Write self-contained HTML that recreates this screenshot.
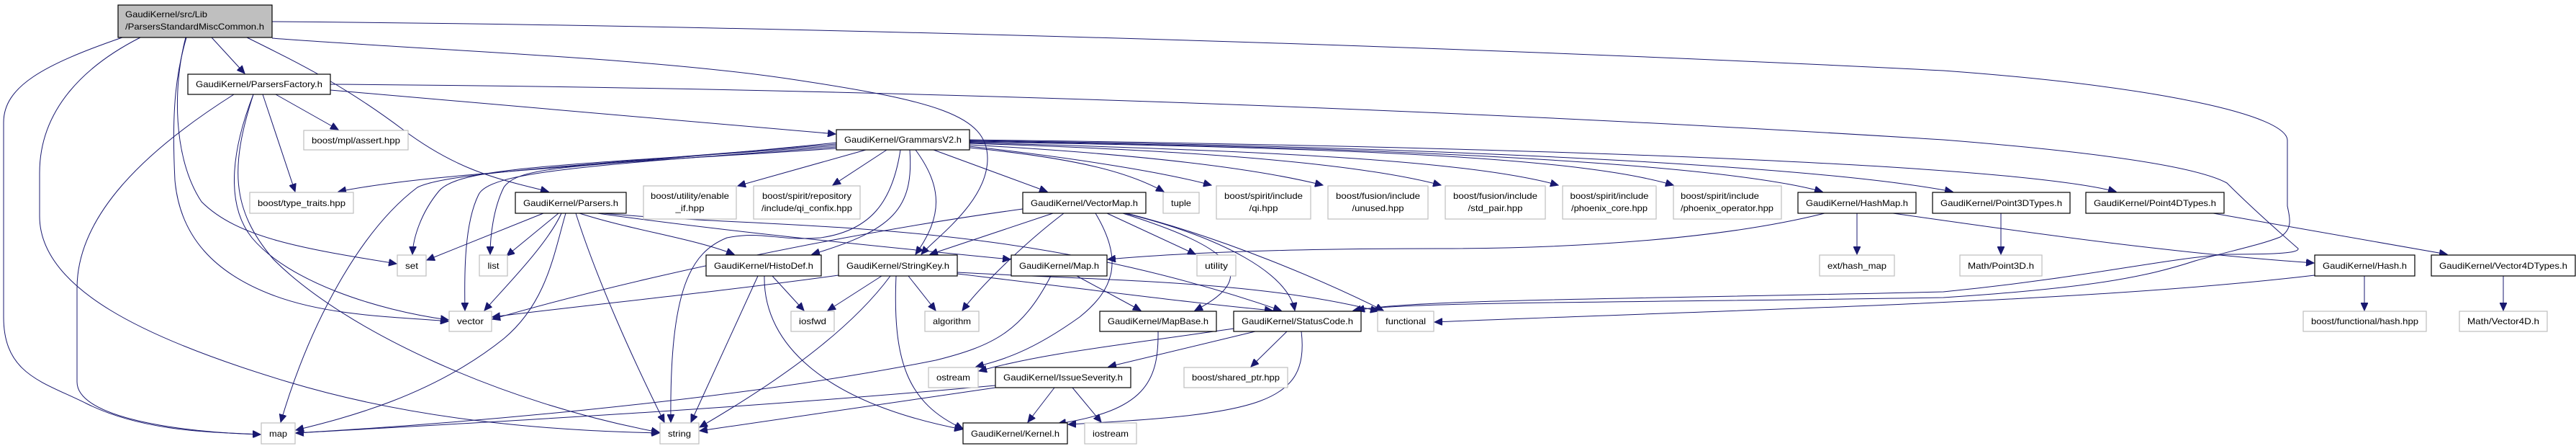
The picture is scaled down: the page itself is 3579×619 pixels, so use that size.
<!DOCTYPE html>
<html><head><meta charset="utf-8"><style>
html,body{margin:0;padding:0;background:#fff;}
svg{display:block;}
text{font-family:"Liberation Sans",sans-serif;font-size:12px;fill:#000;}
.n rect{fill:#fff;stroke:#000;stroke-width:1.2;}
.e rect{fill:#fff;stroke:#bfbfbf;stroke-width:1.2;}
path{fill:none;stroke:#191970;stroke-width:1;}
</style></head><body>
<svg width="3579" height="619" viewBox="0 0 3579 619" xmlns="http://www.w3.org/2000/svg">
<defs><marker id="a" markerUnits="userSpaceOnUse" markerWidth="12" markerHeight="10" refX="11" refY="5" orient="auto"><path d="M0,0 L11,5 L0,10 Z" style="fill:#191970;stroke:#191970"/></marker></defs>
<g marker-end="url(#a)">
<!-- Root edges -->
<path d="M170,52 C60,90 5,120 5,170 L5,440 C5,520 60,530 120,560 C200,600 300,600 362,603"/>
<path d="M195,52 C120,90 55,150 55,240 L55,300 C55,400 200,470 400,530 C600,590 800,598 916,601"/>
<path d="M259,52 C245,100 238,150 243,250 C250,330 300,380 380,410 C460,440 560,440 623,446"/>
<path d="M258,52 C240,120 240,220 280,280 C330,330 420,345 551,366"/>
<path d="M294,52 L340,102"/>
<path d="M343,52 C420,90 480,120 560,180 C640,240 700,250 762,266"/>
<path d="M378,53 C600,70 900,80 1100,110 C1300,140 1372,160 1372,220 C1372,280 1300,330 1280,353"/>
<path d="M378,30 C900,34 1800,53 2700,98 C3000,120 3178,160 3178,195 L3178,286 C3182,305 3185,318 3168,329 C3140,340 3100,348 3050,362 C2980,385 2900,400 2700,413 C2300,420 1950,418 1880,431"/>
<!-- ParsersFactory edges -->
<path d="M459,117 C1200,122 2000,150 2700,194 C2900,210 3050,230 3094,254 C3130,290 3170,325 3193,345 C3195,352 3150,353 3094,353 C3000,360 2900,385 2700,405 C2300,415 1950,415 1885,431"/>
<path d="M459,125 L1161,186"/>
<path d="M383,131 L470,180"/>
<path d="M365,131 L410,266"/>
<path d="M325,131 C200,210 107,300 107,400 L107,530 C107,580 250,600 362,603"/>
<path d="M352,131 C325,200 310,280 350,330 C400,390 520,430 623,444"/>
<path d="M352,131 C320,230 320,290 380,360 C480,460 700,560 916,600"/>
<!-- GrammarsV2 edges -->
<path d="M1162,198 C800,235 600,240 470,266"/>
<path d="M1162,200 C800,230 620,240 580,260 C500,320 430,450 390,586"/>
<path d="M1162,202 C800,230 640,230 610,265 C585,295 574,330 573,353"/>
<path d="M1162,204 C800,230 680,240 665,270 C645,310 645,380 646,431"/>
<path d="M1162,206 C800,230 720,230 700,260 C685,290 681,330 681,353"/>
<path d="M1203,208 L1025,258"/>
<path d="M1232,208 L1157,257"/>
<path d="M1251,208 C1240,280 1210,320 1140,330 C1080,335 1060,320 1010,330 C960,350 930,400 932,586"/>
<path d="M1264,208 C1270,290 1240,320 1128,353"/>
<path d="M1272,208 C1310,260 1310,300 1272,353"/>
<path d="M1297,208 L1455,266"/>
<path d="M1347,205 C1500,220 1570,240 1617,266"/>
<path d="M1347,203 C1500,220 1620,240 1683,257"/>
<path d="M1347,201 C1600,215 1750,235 1838,257"/>
<path d="M1347,199 C1700,210 1900,230 2002,257"/>
<path d="M1347,198 C1800,210 2050,225 2165,257"/>
<path d="M1347,197 C1900,205 2200,220 2325,257"/>
<path d="M1347,196 C2000,205 2400,230 2532,266"/>
<path d="M1347,195 C2100,205 2550,235 2713,266"/>
<path d="M1347,194 C2200,205 2800,230 2940,266"/>
<!-- Parsers.h edges -->
<path d="M755,296 L593,361"/>
<path d="M776,296 L704,355"/>
<path d="M780,296 C760,340 700,400 673,431"/>
<path d="M786,296 C770,350 760,420 700,470 C600,550 480,580 411,597"/>
<path d="M800,296 C830,390 880,500 923,586"/>
<path d="M805,296 C880,320 960,330 1020,353"/>
<path d="M830,296 C1000,320 1200,340 1404,360"/>
<path d="M838,296 C1100,320 1400,300 1780,431"/>
<!-- VectorMap edges -->
<path d="M1421,290 C1200,320 900,380 684,443"/>
<path d="M1463,296 L1292,353"/>
<path d="M1478,296 C1420,340 1360,400 1337,431"/>
<path d="M1522,296 C1560,360 1550,400 1500,440 C1430,490 1390,500 1356,509"/>
<path d="M1538,296 L1661,353"/>
<path d="M1560,296 C1700,340 1760,380 1660,431"/>
<path d="M1563,296 C1700,330 1790,380 1799,431"/>
<path d="M1565,296 C1700,330 1840,390 1922,431"/>
<!-- HashMap edges -->
<path d="M2535,296 C2400,330 2200,345 2000,345 C1800,345 1650,350 1539,360"/>
<path d="M2580,296 L2580,353"/>
<path d="M2630,296 C2800,320 3000,350 3215,365"/>
<path d="M2780,296 L2780,353"/>
<path d="M3075,296 L3400,353"/>
<path d="M3285,383 L3285,431"/>
<path d="M3216,382 C2900,420 2400,430 1993,447"/>
<path d="M3478,383 L3478,431"/>
<!-- StringKey edges -->
<path d="M1165,382 C1000,405 800,425 684,440"/>
<path d="M1225,383 L1150,431"/>
<path d="M1237,383 C1180,460 1080,530 972,593"/>
<path d="M1262,383 L1300,431"/>
<path d="M1245,383 C1240,500 1260,560 1338,595"/>
<path d="M1330,380 C1500,400 1650,420 1768,431"/>
<path d="M1330,378 C1550,390 1750,390 1915,432"/>
<!-- HistoDef edges -->
<path d="M1073,383 L1117,431"/>
<path d="M1053,383 L960,586"/>
<path d="M1062,383 C1060,480 1150,560 1337,596"/>
<!-- Map.h edges -->
<path d="M1496,383 L1585,431"/>
<path d="M1460,383 C1420,460 1380,480 1300,500 C1000,560 600,590 411,601"/>
<!-- MapBase -->
<path d="M1609,460 C1610,530 1590,570 1470,588"/>
<!-- StatusCode edges -->
<path d="M1714,456 C1550,480 1450,490 1360,515"/>
<path d="M1744,460 L1540,509"/>
<path d="M1788,460 L1738,509"/>
<path d="M1808,460 C1820,560 1750,575 1484,589"/>
<!-- IssueSeverity edges -->
<path d="M1383,535 C1000,570 600,590 411,601"/>
<path d="M1383,538 L972,598"/>
<path d="M1465,538 L1428,586"/>
<path d="M1490,538 L1530,586"/>
</g>

<!-- nodes -->
<g class="n"><rect x="164" y="7" width="214" height="45" style="fill:#bfbfbf"/>
<text x="174" y="24" textLength="114" lengthAdjust="spacingAndGlyphs">GaudiKernel/src/Lib</text>
<text x="174" y="41" textLength="193" lengthAdjust="spacingAndGlyphs">/ParsersStandardMiscCommon.h</text></g>

<g class="n"><rect x="261" y="103" width="198" height="28"/><text x="360" y="121" text-anchor="middle" textLength="176" lengthAdjust="spacingAndGlyphs">GaudiKernel/ParsersFactory.h</text></g>
<g class="e"><rect x="422" y="181" width="145" height="27"/><text x="494.5" y="199" text-anchor="middle" textLength="123" lengthAdjust="spacingAndGlyphs">boost/mpl/assert.hpp</text></g>
<g class="e"><rect x="347" y="267" width="144" height="29"/><text x="419" y="286" text-anchor="middle" textLength="122" lengthAdjust="spacingAndGlyphs">boost/type_traits.hpp</text></g>
<g class="n"><rect x="716" y="267" width="154" height="29"/><text x="793" y="286" text-anchor="middle" textLength="132" lengthAdjust="spacingAndGlyphs">GaudiKernel/Parsers.h</text></g>
<g class="e"><rect x="552" y="354" width="40" height="29"/><text x="572" y="373" text-anchor="middle" textLength="18" lengthAdjust="spacingAndGlyphs">set</text></g>
<g class="e"><rect x="666" y="354" width="39" height="29"/><text x="685.5" y="373" text-anchor="middle" textLength="16" lengthAdjust="spacingAndGlyphs">list</text></g>
<g class="e"><rect x="624" y="432" width="59" height="28"/><text x="653.5" y="450" text-anchor="middle" textLength="37" lengthAdjust="spacingAndGlyphs">vector</text></g>
<g class="e"><rect x="363" y="587" width="47" height="29"/><text x="386.5" y="606" text-anchor="middle" textLength="25" lengthAdjust="spacingAndGlyphs">map</text></g>
<g class="n"><rect x="1162" y="180" width="185" height="28"/><text x="1254.5" y="198" text-anchor="middle" textLength="163" lengthAdjust="spacingAndGlyphs">GaudiKernel/GrammarsV2.h</text></g>

<g class="e"><rect x="894" y="258" width="129" height="46"/><text x="958.5" y="276" text-anchor="middle" textLength="109" lengthAdjust="spacingAndGlyphs">boost/utility/enable</text><text x="958.5" y="293" text-anchor="middle" textLength="40" lengthAdjust="spacingAndGlyphs">_if.hpp</text></g>
<g class="e"><rect x="1047" y="258" width="148" height="46"/><text x="1121" y="276" text-anchor="middle" textLength="124" lengthAdjust="spacingAndGlyphs">boost/spirit/repository</text><text x="1121" y="293" text-anchor="middle" textLength="126" lengthAdjust="spacingAndGlyphs">/include/qi_confix.hpp</text></g>
<g class="n"><rect x="1421" y="267" width="171" height="29"/><text x="1506.5" y="286" text-anchor="middle" textLength="149" lengthAdjust="spacingAndGlyphs">GaudiKernel/VectorMap.h</text></g>
<g class="e"><rect x="1616" y="267" width="50" height="29"/><text x="1641" y="286" text-anchor="middle" textLength="28" lengthAdjust="spacingAndGlyphs">tuple</text></g>
<g class="e"><rect x="1690" y="258" width="131" height="46"/><text x="1755.5" y="276" text-anchor="middle" textLength="109" lengthAdjust="spacingAndGlyphs">boost/spirit/include</text><text x="1755.5" y="293" text-anchor="middle" textLength="40" lengthAdjust="spacingAndGlyphs">/qi.hpp</text></g>
<g class="e"><rect x="1845" y="258" width="139" height="46"/><text x="1914.5" y="276" text-anchor="middle" textLength="117" lengthAdjust="spacingAndGlyphs">boost/fusion/include</text><text x="1914.5" y="293" text-anchor="middle" textLength="72" lengthAdjust="spacingAndGlyphs">/unused.hpp</text></g>
<g class="e"><rect x="2008" y="258" width="139" height="46"/><text x="2077.5" y="276" text-anchor="middle" textLength="117" lengthAdjust="spacingAndGlyphs">boost/fusion/include</text><text x="2077.5" y="293" text-anchor="middle" textLength="76" lengthAdjust="spacingAndGlyphs">/std_pair.hpp</text></g>
<g class="e"><rect x="2171" y="258" width="130" height="46"/><text x="2236" y="276" text-anchor="middle" textLength="109" lengthAdjust="spacingAndGlyphs">boost/spirit/include</text><text x="2236" y="293" text-anchor="middle" textLength="106" lengthAdjust="spacingAndGlyphs">/phoenix_core.hpp</text></g>
<g class="e"><rect x="2325" y="258" width="150" height="46"/><text x="2335" y="276" textLength="109" lengthAdjust="spacingAndGlyphs">boost/spirit/include</text><text x="2335" y="293" textLength="129" lengthAdjust="spacingAndGlyphs">/phoenix_operator.hpp</text></g>
<g class="n"><rect x="2498" y="267" width="164" height="29"/><text x="2580" y="286" text-anchor="middle" textLength="142" lengthAdjust="spacingAndGlyphs">GaudiKernel/HashMap.h</text></g>
<g class="n"><rect x="2685" y="267" width="191" height="29"/><text x="2780.5" y="286" text-anchor="middle" textLength="169" lengthAdjust="spacingAndGlyphs">GaudiKernel/Point3DTypes.h</text></g>
<g class="n"><rect x="2898" y="267" width="192" height="29"/><text x="2994" y="286" text-anchor="middle" textLength="170" lengthAdjust="spacingAndGlyphs">GaudiKernel/Point4DTypes.h</text></g>

<g class="n"><rect x="981" y="354" width="160" height="29"/><text x="1061" y="373" text-anchor="middle" textLength="138" lengthAdjust="spacingAndGlyphs">GaudiKernel/HistoDef.h</text></g>
<g class="n"><rect x="1165" y="354" width="165" height="29"/><text x="1247.5" y="373" text-anchor="middle" textLength="143" lengthAdjust="spacingAndGlyphs">GaudiKernel/StringKey.h</text></g>
<g class="n"><rect x="1405" y="354" width="133" height="29"/><text x="1471.5" y="373" text-anchor="middle" textLength="111" lengthAdjust="spacingAndGlyphs">GaudiKernel/Map.h</text></g>
<g class="e"><rect x="1663" y="354" width="54" height="29"/><text x="1690" y="373" text-anchor="middle" textLength="32" lengthAdjust="spacingAndGlyphs">utility</text></g>
<g class="e"><rect x="2528" y="354" width="104" height="29"/><text x="2580" y="373" text-anchor="middle" textLength="82" lengthAdjust="spacingAndGlyphs">ext/hash_map</text></g>
<g class="e"><rect x="2723" y="354" width="114" height="29"/><text x="2780" y="373" text-anchor="middle" textLength="92" lengthAdjust="spacingAndGlyphs">Math/Point3D.h</text></g>
<g class="n"><rect x="3216" y="354" width="139" height="29"/><text x="3285.5" y="373" text-anchor="middle" textLength="117" lengthAdjust="spacingAndGlyphs">GaudiKernel/Hash.h</text></g>
<g class="n"><rect x="3378" y="354" width="200" height="29"/><text x="3478" y="373" text-anchor="middle" textLength="178" lengthAdjust="spacingAndGlyphs">GaudiKernel/Vector4DTypes.h</text></g>

<g class="e"><rect x="1099" y="432" width="60" height="28"/><text x="1129" y="450" text-anchor="middle" textLength="38" lengthAdjust="spacingAndGlyphs">iosfwd</text></g>
<g class="e"><rect x="1285" y="432" width="75" height="28"/><text x="1322.5" y="450" text-anchor="middle" textLength="53" lengthAdjust="spacingAndGlyphs">algorithm</text></g>
<g class="n"><rect x="1528" y="432" width="162" height="28"/><text x="1609" y="450" text-anchor="middle" textLength="140" lengthAdjust="spacingAndGlyphs">GaudiKernel/MapBase.h</text></g>
<g class="n"><rect x="1714" y="432" width="177" height="28"/><text x="1802.5" y="450" text-anchor="middle" textLength="155" lengthAdjust="spacingAndGlyphs">GaudiKernel/StatusCode.h</text></g>
<g class="e"><rect x="1914" y="432" width="78" height="28"/><text x="1953" y="450" text-anchor="middle" textLength="56" lengthAdjust="spacingAndGlyphs">functional</text></g>
<g class="e"><rect x="3200" y="432" width="171" height="28"/><text x="3285.5" y="450" text-anchor="middle" textLength="149" lengthAdjust="spacingAndGlyphs">boost/functional/hash.hpp</text></g>
<g class="e"><rect x="3417" y="432" width="122" height="28"/><text x="3478" y="450" text-anchor="middle" textLength="100" lengthAdjust="spacingAndGlyphs">Math/Vector4D.h</text></g>

<g class="e"><rect x="1290" y="510" width="69" height="28"/><text x="1324.5" y="528" text-anchor="middle" textLength="47" lengthAdjust="spacingAndGlyphs">ostream</text></g>
<g class="n"><rect x="1383" y="510" width="188" height="28"/><text x="1477" y="528" text-anchor="middle" textLength="166" lengthAdjust="spacingAndGlyphs">GaudiKernel/IssueSeverity.h</text></g>
<g class="e"><rect x="1645" y="510" width="144" height="28"/><text x="1717" y="528" text-anchor="middle" textLength="122" lengthAdjust="spacingAndGlyphs">boost/shared_ptr.hpp</text></g>

<g class="e"><rect x="917" y="587" width="54" height="29"/><text x="944" y="606" text-anchor="middle" textLength="32" lengthAdjust="spacingAndGlyphs">string</text></g>
<g class="n"><rect x="1338" y="587" width="145" height="29"/><text x="1410.5" y="606" text-anchor="middle" textLength="123" lengthAdjust="spacingAndGlyphs">GaudiKernel/Kernel.h</text></g>
<g class="e"><rect x="1507" y="587" width="72" height="29"/><text x="1543" y="606" text-anchor="middle" textLength="50" lengthAdjust="spacingAndGlyphs">iostream</text></g>
</svg>
</body></html>
